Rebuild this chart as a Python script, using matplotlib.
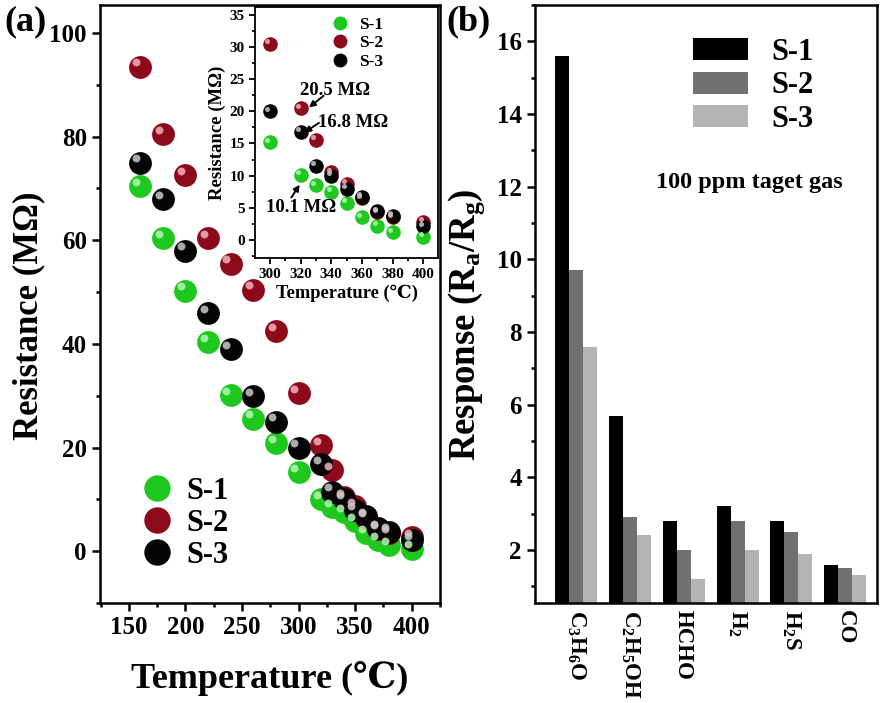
import matplotlib.pyplot as plt
import matplotlib.transforms as mtransforms
from matplotlib.lines import Line2D
from matplotlib.ticker import MultipleLocator
import numpy as np

plt.rcParams['font.family'] = ['Liberation Serif', 'DejaVu Serif', 'DejaVu Sans']
plt.rcParams['font.weight'] = 'bold'
plt.rcParams['mathtext.fontset'] = 'custom'
plt.rcParams['mathtext.rm'] = 'Liberation Serif:bold'
plt.rcParams['mathtext.it'] = 'Liberation Serif:bold'
plt.rcParams['mathtext.bf'] = 'Liberation Serif:bold'

# (a) resistance vs temperature
temp = [160, 180, 200, 220, 240, 260, 280, 300, 320, 330, 340, 350, 360, 370, 380, 400]
res_s1 = [70.5, 60.5, 50.3, 40.3, 30.2, 25.6, 20.8, 15.2, 10.1, 8.5, 7.5, 5.8, 3.5, 2.2, 1.2, 0.5]
res_s2 = [93.5, 80.5, 72.5, 60.5, 55.5, 50.5, 42.5, 30.5, 20.5, 15.6, 10.5, 8.7, 6.5, 4.3, 3.5, 2.8]
res_s3 = [75.0, 68.0, 58.0, 46.0, 39.0, 30.0, 25.0, 20.0, 16.8, 11.5, 10.0, 8.0, 6.7, 4.5, 3.8, 2.1]

# (b) response to 100 ppm gases
gases = ['C$_3$H$_6$O', 'C$_2$H$_5$OH', 'HCHO', 'H$_2$', 'H$_2$S', 'CO']
resp_s1 = [15.6, 5.7, 2.8, 3.2, 2.8, 1.6]
resp_s2 = [9.7, 2.9, 2.0, 2.8, 2.5, 1.5]
resp_s3 = [7.6, 2.4, 1.2, 2.0, 1.9, 1.3]

names = ['S-1', 'S-2', 'S-3']
dot_colors = ['#1ec81e', '#8c0a1a', '#050505']
hi_colors = ['#b5f7b5', '#f4b0c0', '#c8c8c8']
bar_colors = ['#000000', '#707070', '#b4b4b4']

fig = plt.figure(figsize=(8.84, 7.03), dpi=100)
ax = fig.add_axes([0.1131, 0.1422, 0.3846, 0.8507])
axb = fig.add_axes([0.6052, 0.1422, 0.3869, 0.8507])
axi = fig.add_axes([0.2885, 0.633, 0.2070, 0.3570])


def spheres(a, x, y, size, col, hi, shift):
    a.scatter(x, y, s=size, color=col, zorder=3, linewidths=0)
    off = mtransforms.offset_copy(a.transData, fig=fig, x=-shift, y=shift, units='points')
    a.scatter(x, y, s=size * 0.12, color=hi, zorder=4, linewidths=0,
              alpha=0.85, transform=off)


series = [res_s1, res_s2, res_s3]
for vals, c, h in zip(series, dot_colors, hi_colors):
    spheres(ax, temp, vals, 270, c, h, 3)

ax.set_xlim(124.5, 425)
ax.set_ylim(-10, 105.4)
ax.xaxis.set_major_locator(MultipleLocator(50))
ax.xaxis.set_minor_locator(MultipleLocator(25))
ax.yaxis.set_major_locator(MultipleLocator(20))
ax.yaxis.set_minor_locator(MultipleLocator(10))
ax.set_xlabel('Temperature (℃)', fontsize=26, fontweight='bold', labelpad=16)
ax.set_ylabel('Resistance (MΩ)', fontsize=25, fontweight='bold')
ax.yaxis.set_label_coords(-0.16, 0.48)

leg_h = [Line2D([], [], ls='', marker='o', markersize=18, color=c) for c in dot_colors]
ax.legend(leg_h, names, loc='lower left', bbox_to_anchor=(0.115, 0.055), frameon=False,
          prop={'size': 22, 'weight': 'bold'}, handletextpad=0.36, labelspacing=0.1,
          handlelength=1.2, borderpad=0, borderaxespad=0)

# inset: zoom on 300-400 C
ins = [v[7:] for v in series]
for vals, c, h in zip(ins, dot_colors, hi_colors):
    spheres(axi, temp[7:], vals, 110, c, h, 1.8)
axi.set_xlim(290.3, 409.7)
axi.set_ylim(-2.8, 36.2)
axi.xaxis.set_major_locator(MultipleLocator(20))
axi.xaxis.set_minor_locator(MultipleLocator(10))
axi.yaxis.set_major_locator(MultipleLocator(5))
axi.yaxis.set_minor_locator(MultipleLocator(2.5))
axi.set_xlabel('Temperature (℃)', fontsize=13.3, fontweight='bold', labelpad=2)
axi.set_ylabel('Resistance (MΩ)', fontsize=13.5, fontweight='bold', labelpad=2)
leg_i = [Line2D([], [], ls='', marker='o', markersize=9, color=c) for c in dot_colors]
axi.legend(leg_i, names, loc='upper left', bbox_to_anchor=(0.415, 0.96), frameon=False,
           prop={'size': 12.5, 'weight': 'bold'}, handletextpad=0.6, labelspacing=0.12,
           handlelength=1.0, borderpad=0, borderaxespad=0)

arw = dict(arrowstyle='-|>', color='black', lw=1.4, mutation_scale=9, shrinkA=0, shrinkB=0)
axi.annotate('', xy=(325.5, 20.6), xytext=(335, 22.4), arrowprops=arw)
axi.text(319.5, 23.3, '20.5 MΩ', fontsize=13.5, fontweight='bold', ha='left', va='center')
axi.annotate('', xy=(322.5, 16.7), xytext=(332, 18.2), arrowprops=arw)
axi.text(331.5, 18.2, '16.8 MΩ', fontsize=13.5, fontweight='bold', ha='left', va='center')
axi.annotate('', xy=(319.4, 8.6), xytext=(314, 6.6), arrowprops=arw)
axi.text(320.5, 5.0, '10.1 MΩ', fontsize=13.5, fontweight='bold', ha='center', va='center')

# (b) bars
x = np.arange(len(gases))
w = 0.26
for i, (vals, c, n) in enumerate(zip([resp_s1, resp_s2, resp_s3], bar_colors, names)):
    axb.bar(x + (i - 1) * w, vals, width=w, color=c, label=n, zorder=2)
axb.set_xlim(-0.76, 5.59)
axb.set_ylim(0.54, 17.0)
axb.set_xticks(x)
axb.set_xticklabels(gases, rotation=-90, fontsize=16.5, fontweight='bold', va='top', ha='center')
axb.yaxis.set_major_locator(MultipleLocator(2))
axb.yaxis.set_minor_locator(MultipleLocator(1))
axb.set_ylabel('Response (R$_a$/R$_g$)', fontsize=26.5, fontweight='bold')
axb.yaxis.set_label_coords(-0.14, 0.465)
axb.legend(loc='upper left', bbox_to_anchor=(0.462, 0.945), frameon=False,
           prop={'size': 22, 'weight': 'bold'}, handlelength=1.8, handleheight=0.72,
           handletextpad=0.75, labelspacing=0.15, borderpad=0, borderaxespad=0)
axb.text(0.626, 0.704, '100 ppm taget gas', transform=axb.transAxes, fontsize=17.5,
         fontweight='bold', ha='center', va='center')

for a, fs, lw in [(ax, 18, 1.8), (axb, 18, 1.8), (axi, 11, 1.3)]:
    for sp in a.spines.values():
        sp.set_linewidth(lw)
    a.tick_params(which='major', direction='out', length=6 if a is not axi else 4,
                  width=lw, labelsize=fs)
    a.tick_params(which='minor', direction='out', length=3 if a is not axi else 2, width=lw)
    for lab in a.get_yticklabels() + a.get_xticklabels():
        lab.set_fontweight('bold')
axb.tick_params(axis='x', which='both', length=0, pad=5, labelsize=16.5)

fig.text(0.005, 0.969, '(a)', fontsize=26, fontweight='bold', va='center', ha='left')
fig.text(0.505, 0.969, '(b)', fontsize=26, fontweight='bold', va='center', ha='left')

fig.savefig('out.png', dpi=100)
